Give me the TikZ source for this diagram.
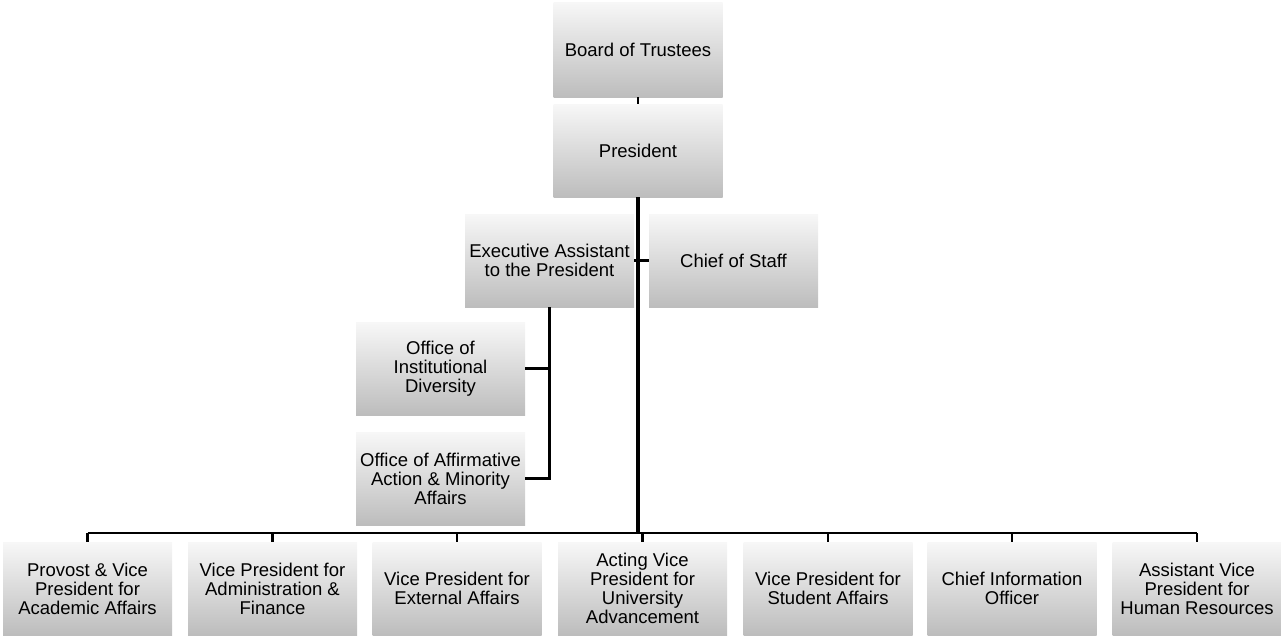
\documentclass[tikz,border=0pt]{standalone}
\usepackage{fontspec}
\setmainfont{Liberation Sans}
\begin{document}
\begin{tikzpicture}[x=1pt,y=-1pt,
  orgbox/.style={shading=axis,top color=black!3,bottom color=black!26,
    minimum width=169pt,minimum height=93pt,inner sep=1pt,align=center,
    font=\fontsize{18.5}{19}\selectfont,text=black},
  thin link/.style={line width=1.8pt},
  mid link/.style={line width=2.3pt},
  trunk/.style={line width=3.4pt}]
\useasboundingbox (0,0) rectangle (1281,635);
\node[orgbox,minimum height=95pt] (board) at (638,49.5) {Board of Trustees};
\node[orgbox] (pres) at (638,150.5) {President};
\node[orgbox] (exec) at (549.5,260.5) {Executive Assistant\\to the President};
\node[orgbox] (cos) at (733.5,260.5) {Chief of Staff};
\node[orgbox] (oid) at (440.5,368.5) {Office of\\Institutional\\Diversity};
\node[orgbox] (oaa) at (440.5,478.5) {Office of Affirmative\\Action \& Minority\\Affairs};
\node[orgbox] (b1) at (87.5,588.5) {Provost \& Vice\\President for\\Academic Affairs};
\node[orgbox] (b2) at (272.5,588.5) {Vice President for\\Administration \&\\Finance};
\node[orgbox] (b3) at (457,588.5) {Vice President for\\External Affairs};
\node[orgbox] (b4) at (642.5,588.5) {Acting Vice\\President for\\University\\Advancement};
\node[orgbox] (b5) at (828,588.5) {Vice President for\\Student Affairs};
\node[orgbox] (b6) at (1012,588.5) {Chief Information\\Officer};
\node[orgbox] (b7) at (1197,588.5) {Assistant Vice\\President for\\Human Resources};
\coordinate (busy) at (0,533);
% connectors
\draw[thin link] (board.south) -- (pres.north);
\draw[trunk] (pres.south) -- (pres.south |- busy);
\draw[mid link] (exec.east) -- (cos.west);
\draw[mid link] (exec.south) |- (oaa.east);
\draw[mid link] (oid.east) -- (oid.east -| exec.south);
\draw[mid link] (b1.north |- busy) -- (b7.north |- busy);
\foreach \b in {b1,b2,b3,b4,b5,b6,b7}
  \draw[mid link] (\b.north) -- (\b.north |- busy);
\end{tikzpicture}
\end{document}
